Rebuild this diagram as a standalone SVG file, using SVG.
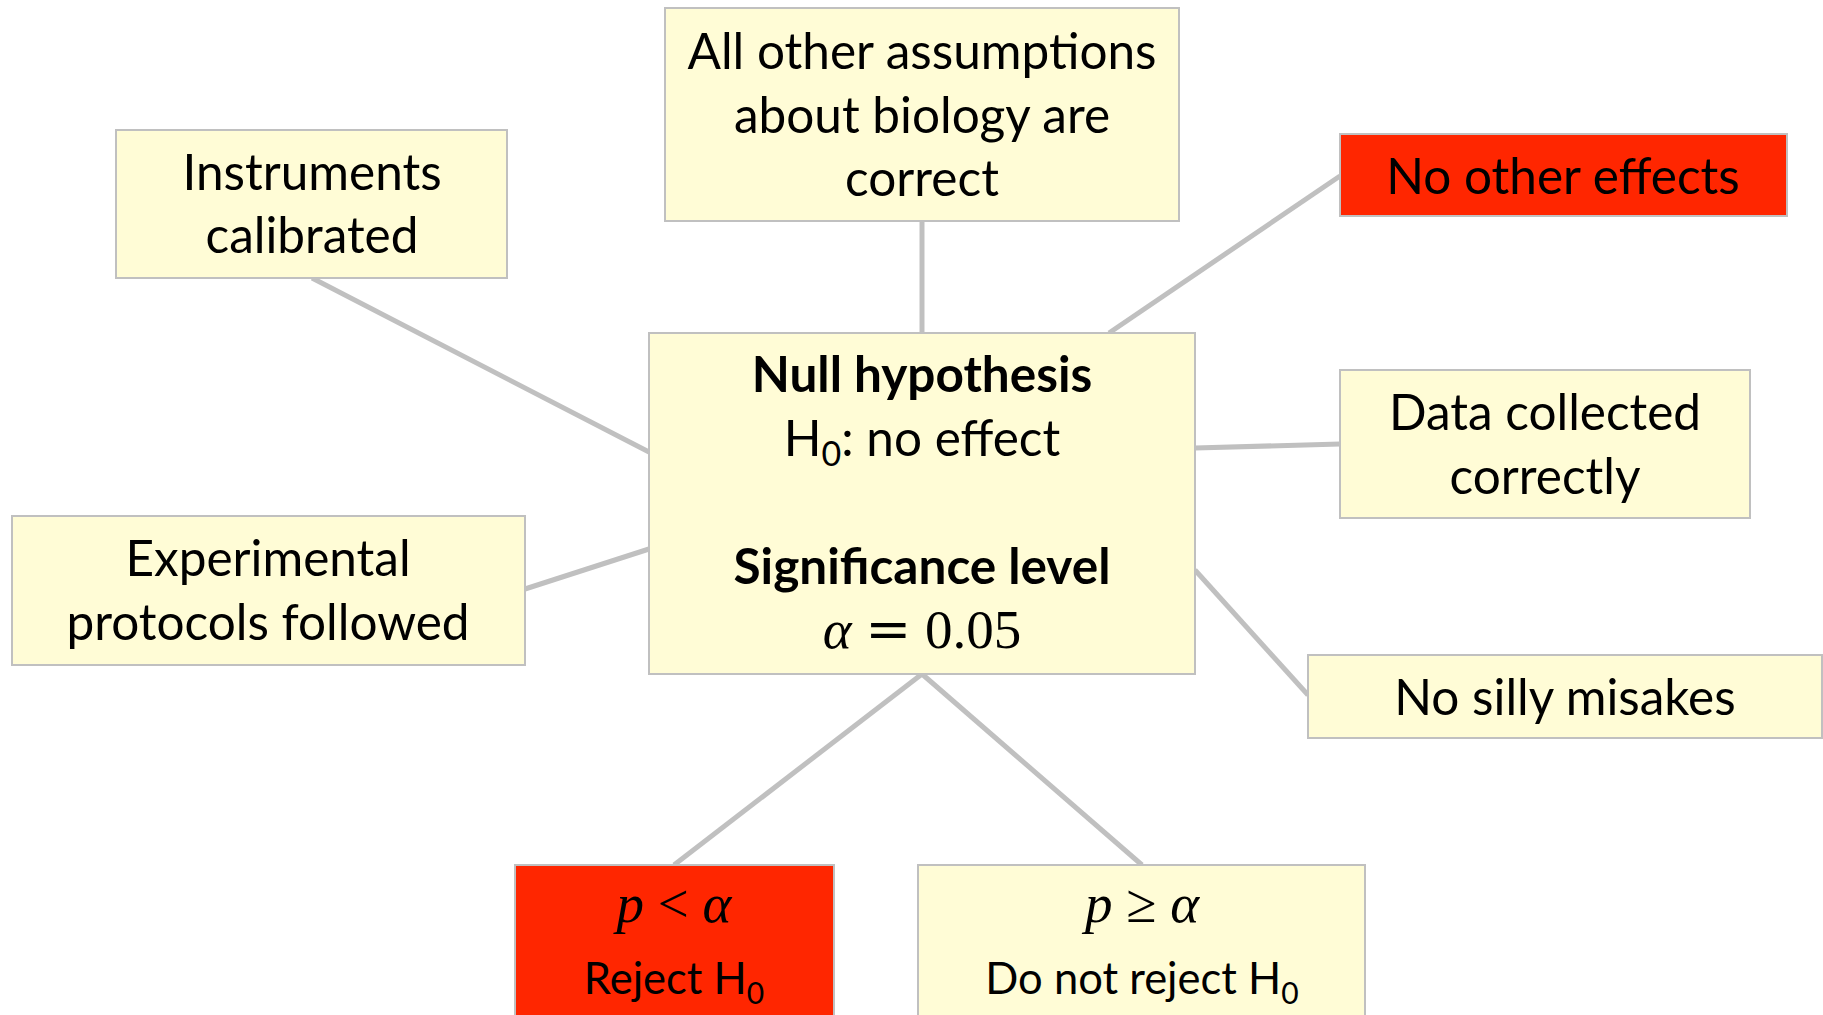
<svg xmlns="http://www.w3.org/2000/svg" width="1823" height="1015" viewBox="0 0 1823 1015">
<style>
.box{fill:#FFFCD6;stroke:#C0C0C0;stroke-width:2}
.red{fill:#FF2600;stroke:#C0C0C0;stroke-width:2}
.t{font-family:Lato,"Open Sans","Liberation Sans",sans-serif;font-size:49.5px;fill:#000;text-anchor:middle}
.s{font-size:43.5px}
.b{font-weight:bold}
.m{font-family:"Liberation Serif","DejaVu Serif",serif;font-size:55px;fill:#000;text-anchor:middle}
.i{font-style:italic}
.eq{font-family:"DejaVu Serif",serif}
.c{stroke:#C0C0C0;stroke-width:5;fill:none}
</style>
<rect width="1823" height="1015" fill="#fff"/>
<g id="connectors">
<line class="c" x1="922" y1="221" x2="922" y2="333"/>
<line class="c" x1="312" y1="278" x2="649" y2="452"/>
<line class="c" x1="1109" y1="333" x2="1340" y2="176"/>
<line class="c" x1="1195" y1="448" x2="1340" y2="444"/>
<line class="c" x1="1195" y1="570" x2="1308" y2="695"/>
<line class="c" x1="525" y1="589" x2="649" y2="549"/>
<line class="c" x1="922" y1="674" x2="674" y2="865"/>
<line class="c" x1="922" y1="674" x2="1142" y2="865"/>
</g>
<g id="node-assumptions">
<rect class="box" x="665" y="8" width="514" height="213"/>
<text class="t" x="922" y="69">All other assumptions</text>
<text class="t" x="922" y="133">about biology are</text>
<text class="t" x="922" y="196">correct</text>
</g>
<g id="node-instruments">
<rect class="box" x="116" y="130" width="391" height="148"/>
<text class="t" x="312" y="190">Instruments</text>
<text class="t" x="312" y="253">calibrated</text>
</g>
<g id="node-other-effects">
<rect class="red" x="1340" y="134" width="447" height="82"/>
<text class="t" x="1563" y="194">No other effects</text>
</g>
<g id="node-data">
<rect class="box" x="1340" y="370" width="410" height="148"/>
<text class="t" x="1545" y="430">Data collected</text>
<text class="t" x="1545" y="494">correctly</text>
</g>
<g id="node-silly">
<rect class="box" x="1308" y="655" width="514" height="83"/>
<text class="t" x="1565" y="715">No silly misakes</text>
</g>
<g id="node-protocols">
<rect class="box" x="12" y="516" width="513" height="149"/>
<text class="t" x="268" y="576">Experimental</text>
<text class="t" x="268" y="640">protocols followed</text>
</g>
<g id="node-null">
<rect class="box" x="649" y="333" width="546" height="341"/>
<text class="t b" x="922" y="392">Null hypothesis</text>
<text class="t" x="922" y="456">H<tspan font-size="34" dy="10">0</tspan><tspan dy="-10">: no effect</tspan></text>
<text class="t b" x="922" y="584">Significance level</text>
<text class="m" x="922" y="648"><tspan class="i">α</tspan> <tspan class="eq">=</tspan> 0.05</text>
</g>
<g id="node-reject">
<rect class="red" x="515" y="865" width="319" height="160"/>
<text class="m" x="674" y="922"><tspan class="i">p</tspan> &lt; <tspan class="i">α</tspan></text>
<text class="t s" x="674" y="994">Reject H<tspan font-size="30" dy="10">0</tspan></text>
</g>
<g id="node-notreject">
<rect class="box" x="918" y="865" width="447" height="160"/>
<text class="m" x="1142" y="922"><tspan class="i">p</tspan> ≥ <tspan class="i">α</tspan></text>
<text class="t s" x="1142" y="994">Do not reject H<tspan font-size="30" dy="10">0</tspan></text>
</g>
</svg>
